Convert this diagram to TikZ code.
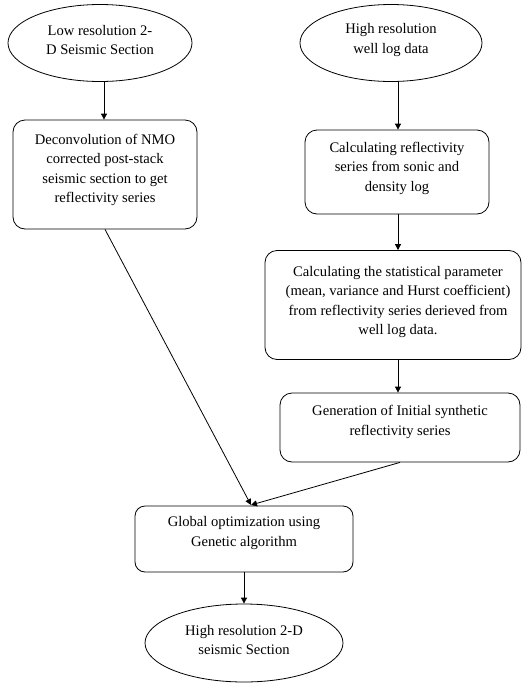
\documentclass[tikz,border=0pt]{standalone}
\usepackage{fontspec}
\setmainfont{Liberation Serif}
\usetikzlibrary{shapes.geometric,arrows.meta}
\begin{document}
\begin{tikzpicture}[x=1pt,y=-1pt,
  every node/.style={font=\fontsize{14.6}{19.5}\selectfont},
  oval/.style={draw,ellipse,line width=0.8pt,inner sep=0pt},
  roundbox/.style={draw,rounded corners=12pt,line width=0.8pt,inner sep=0pt},
  txt/.style={align=center,inner sep=0pt},
  conn/.style={line width=0.8pt,-{Triangle[length=6pt,width=6pt]}}]
\useasboundingbox (0,0) rectangle (522,683);
% ellipses
\node[oval,minimum width=184pt,minimum height=77pt] (e1) at (100,43) {};
\node[txt] at (100,40) {Low resolution 2-\\D Seismic Section};
\node[oval,minimum width=182pt,minimum height=77pt] (e2) at (391,43) {};
\node[txt] at (391,40) {High resolution\\well log data};
% boxes
\node[roundbox,minimum width=184pt,minimum height=109pt] (b1) at (105,174.5) {};
\node[txt] at (105,170) {Deconvolution of NMO\\corrected post-stack\\seismic section to get\\reflectivity series};
\node[roundbox,minimum width=184pt,minimum height=84pt] (b2) at (397,172) {};
\node[txt] at (397,168) {Calculating reflectivity\\series from sonic and\\density log};
\node[roundbox,minimum width=256pt,minimum height=109pt] (b3) at (393,305) {};
\node[txt] at (398,302) {Calculating the statistical parameter\\(mean, variance and Hurst coefficient)\\from reflectivity series derieved from\\well log data.};
\node[roundbox,minimum width=240pt,minimum height=69pt] (b4) at (400,427.5) {};
\node[txt] at (400,422) {Generation of Initial synthetic\\reflectivity series};
\node[roundbox,rounded corners=10pt,minimum width=218pt,minimum height=66pt] (b5) at (244,539) {};
\node[txt] at (244,533) {Global optimization using\\Genetic algorithm};
\node[oval,minimum width=198pt,minimum height=78pt] (e3) at (244,643) {};
\node[txt] at (244,640) {High resolution 2-D\\seismic Section};
% connectors
\draw[conn] (e1.south -| 104,0) -- (b1.north -| 104,0);
\draw[conn] (e2.south -| 398,0) -- (b2.north -| 398,0);
\draw[conn] (b2.south -| 398,0) -- (b3.north -| 398,0);
\draw[conn] (b3.south -| 398,0) -- (b4.north -| 398,0);
\coordinate (m) at (251,505);
\draw[conn] (b1.south) -- (m);
\draw[conn] (b4.south) -- (m);
\draw[conn] (b5.south) -- (e3.north);
\end{tikzpicture}
\end{document}
